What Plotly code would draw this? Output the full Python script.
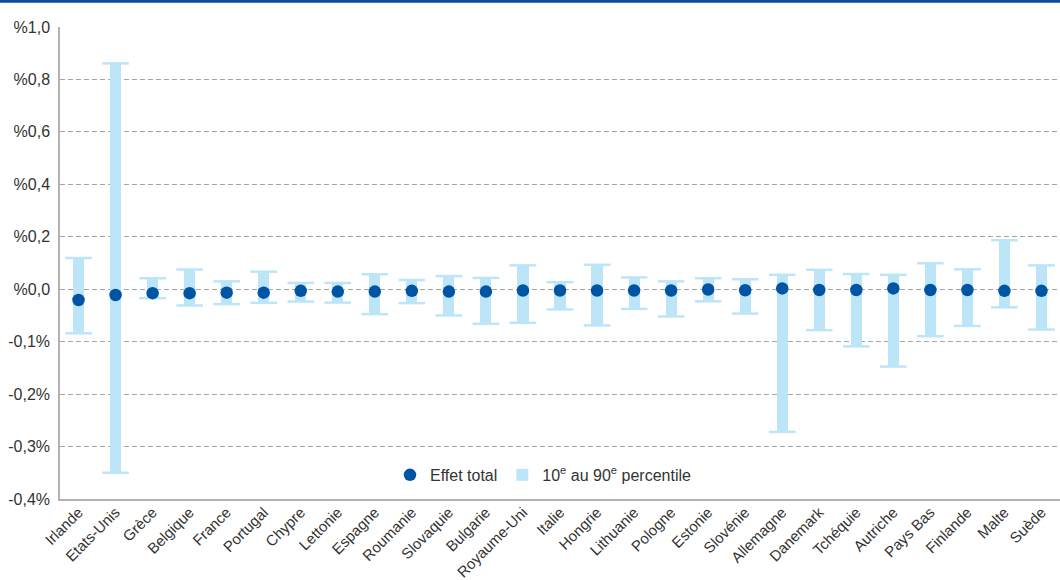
import plotly.graph_objects as go

# Pays (axe des abscisses)
countries = ["Irlande", "Etats-Unis", "Grèce", "Belgique", "France", "Portugal", "Chypre",
             "Lettonie", "Espagne", "Roumanie", "Slovaquie", "Bulgarie", "Royaume-Uni",
             "Italie", "Hongrie", "Lithuanie", "Pologne", "Estonie", "Slovénie", "Allemagne",
             "Danemark", "Tchéquie", "Autriche", "Pays Bas", "Finlande", "Malte", "Suède"]

# Effet total (points)
effet_total = [-0.041, -0.022, -0.015, -0.015, -0.013, -0.013, -0.006, -0.009, -0.009,
               -0.006, -0.009, -0.009, -0.005, -0.005, -0.005, -0.005, -0.005, -0.001,
               -0.004, 0.003, -0.003, -0.003, 0.003, -0.003, -0.003, -0.006, -0.006]

# 10e percentile (bas de l'intervalle)
p10 = [-0.168, -0.700, -0.034, -0.062, -0.057, -0.052, -0.047, -0.051, -0.095,
       -0.053, -0.100, -0.132, -0.128, -0.077, -0.138, -0.075, -0.104, -0.046,
       -0.093, -0.544, -0.156, -0.218, -0.295, -0.179, -0.140, -0.069, -0.154]

# 90e percentile (haut de l'intervalle)
p90 = [0.119, 0.861, 0.042, 0.075, 0.030, 0.067, 0.024, 0.024, 0.057,
       0.035, 0.050, 0.043, 0.091, 0.027, 0.093, 0.045, 0.030, 0.042,
       0.038, 0.055, 0.074, 0.058, 0.055, 0.099, 0.076, 0.187, 0.091]

# Graduations de l'axe vertical
y_tickvals = [-0.8, -0.6, -0.4, -0.2, 0.0, 0.2, 0.4, 0.6, 0.8, 1.0]
y_ticktext = ["-0,4%", "-0,3%", "-0,2%", "-0,1%", "%0,0", "%0,2", "%0,4", "%0,6", "%0,8", "%1,0"]

LIGHT = "#bde5f8"
DARK = "#0054a4"
FONT = "Liberation Sans, Arial, sans-serif"

fig = go.Figure()

# Intervalle 10e - 90e percentile
fig.add_trace(go.Bar(
    x=countries,
    y=[h - l for h, l in zip(p90, p10)],
    base=p10,
    width=0.3,
    marker=dict(color=LIGHT, line=dict(width=0)),
    name="10<sup>e</sup> au 90<sup>e</sup> percentile",
    legendrank=2,
))

# Traits horizontaux aux extrémités
for vals in (p90, p10):
    fig.add_trace(go.Scatter(
        x=countries, y=vals, mode="markers",
        marker=dict(symbol="line-ew", size=19, line=dict(color=LIGHT, width=2.5)),
        showlegend=False, hoverinfo="skip",
    ))

# Effet total
fig.add_trace(go.Scatter(
    x=countries, y=effet_total, mode="markers",
    marker=dict(color=DARK, size=12.5, line=dict(width=0)),
    name="Effet total",
    legendrank=1,
))

fig.update_layout(
    width=1060, height=580,
    margin=dict(l=60, r=0, t=27, b=81),
    paper_bgcolor="white", plot_bgcolor="white",
    font=dict(family=FONT, size=16, color="#333333"),
    showlegend=True,
    legend=dict(orientation="h", x=0.483, xanchor="center", y=0.051, yanchor="middle",
                bgcolor="rgba(0,0,0,0)", font=dict(size=16, color="#333333"),
                itemwidth=30, traceorder="normal"),
    bargap=0,
    shapes=[dict(type="line", xref="paper", yref="paper",
                 x0=-0.06, x1=1.0, y0=1 + 25.7 / 472, y1=1 + 25.7 / 472,
                 line=dict(color="#0a4f9c", width=3))],
)

fig.update_xaxes(
    range=[-0.5, len(countries) - 0.5],
    tickangle=-45, tickfont=dict(size=15, color="#333333"),
    showline=True, linecolor="#b3b3b3", linewidth=1.5, mirror=False,
    showgrid=False, ticks="", fixedrange=True, automargin=False,
    ticklabelstandoff=-3,
)

fig.update_yaxes(
    range=[-0.8, 1.0],
    tickvals=y_tickvals, ticktext=y_ticktext,
    tickfont=dict(size=16, color="#333333"),
    showline=True, linecolor="#b3b3b3", linewidth=1.5, mirror=False,
    showgrid=True, gridcolor="#a6a6a6", griddash="5px,3px", gridwidth=1,
    zeroline=False, ticks="", ticklabelstandoff=5, automargin=False,
)

fig.write_html("out.html")
